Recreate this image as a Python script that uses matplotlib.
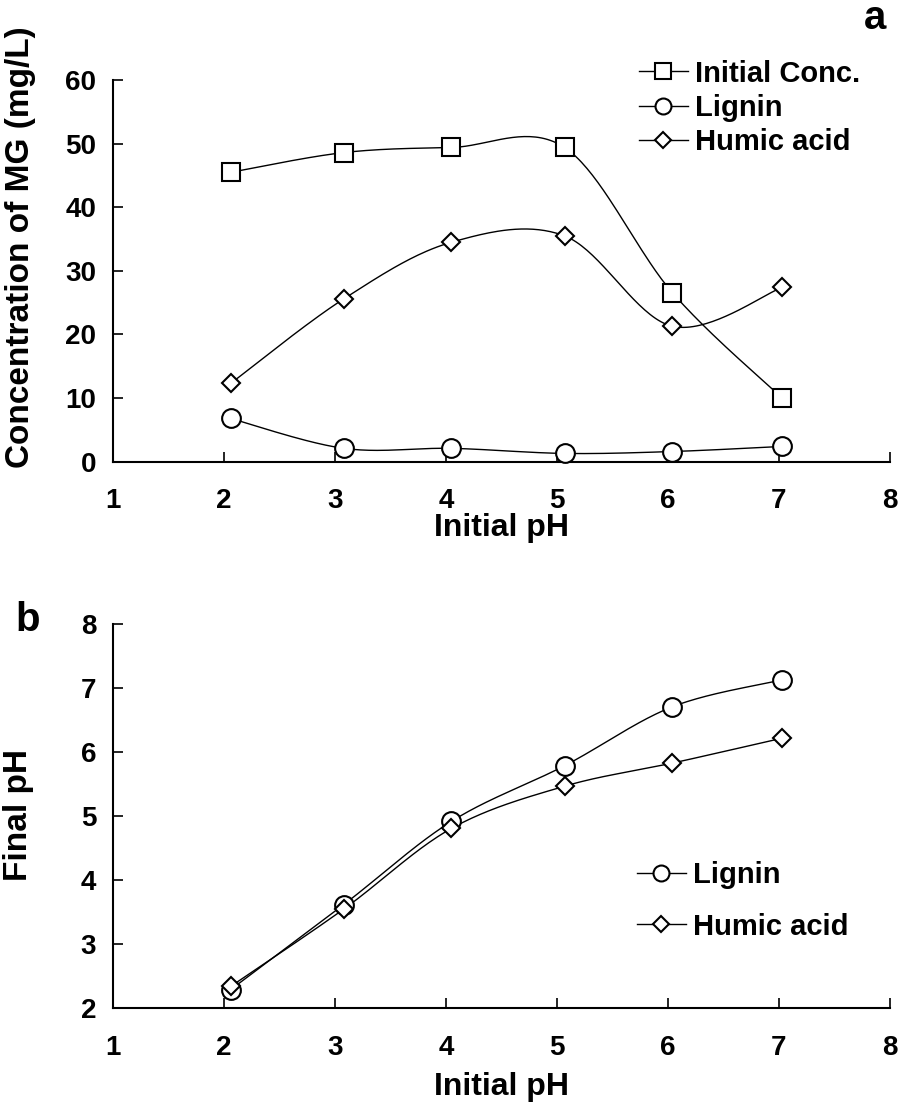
import numpy as np
import matplotlib
matplotlib.use('Agg')
import matplotlib.pyplot as plt
from matplotlib.lines import Line2D

plt.rcParams['font.family'] = ['Liberation Sans', 'DejaVu Sans']
plt.rcParams['font.weight'] = 'bold'

# initial pH of each run
ph_init = [2.06, 3.08, 4.05, 5.07, 6.04, 7.03]

# panel a: concentration of MG (mg/L)
conc_initial = [45.5, 48.6, 49.4, 49.4, 26.6, 10.0]
conc_lignin = [6.8, 2.1, 2.1, 1.3, 1.6, 2.4]
conc_humic = [12.3, 25.6, 34.5, 35.5, 21.3, 27.4]

# panel b: final pH
final_lignin = [2.29, 3.62, 4.92, 5.79, 6.71, 7.13]
final_humic = [2.34, 3.55, 4.81, 5.47, 5.83, 6.22]


def smooth(x, y, n=40):
    # excel-like smoothed line (bezier through the points)
    x = np.asarray(x, float)
    y = np.asarray(y, float)
    px = np.concatenate([[x[0]], x, [x[-1]]])
    py = np.concatenate([[y[0]], y, [y[-1]]])
    t = np.linspace(0, 1, n)[:, None]
    xs, ys = [], []
    for i in range(1, len(px) - 2):
        p0 = np.array([px[i], py[i]])
        p3 = np.array([px[i + 1], py[i + 1]])
        p1 = p0 + (np.array([px[i + 1], py[i + 1]]) - np.array([px[i - 1], py[i - 1]])) / 6
        p2 = p3 - (np.array([px[i + 2], py[i + 2]]) - np.array([px[i], py[i]])) / 6
        b = (1 - t) ** 3 * p0 + 3 * (1 - t) ** 2 * t * p1 + 3 * (1 - t) * t ** 2 * p2 + t ** 3 * p3
        xs.append(b[:, 0])
        ys.append(b[:, 1])
    return np.concatenate(xs), np.concatenate(ys)


mk = dict(markerfacecolor='white', markeredgecolor='black', markeredgewidth=1.5,
          linestyle='none', zorder=3, clip_on=False)
styles = {'s': 13, 'o': 13.5, 'D': 9}


def series(ax, x, y, marker):
    sx, sy = smooth(x, y)
    ax.plot(sx, sy, color='black', linewidth=1.0, zorder=2)
    ax.plot(x, y, marker=marker, markersize=styles[marker], **mk)


def style_axis(ax):
    for s in ['top', 'right']:
        ax.spines[s].set_visible(False)
    for s in ['left', 'bottom']:
        ax.spines[s].set_linewidth(1.5)
    ax.tick_params(direction='in', length=7, width=1.2, labelsize=20)
    ax.tick_params(axis='x', pad=19)
    ax.tick_params(axis='y', pad=12)
    ax.set_xlim(1, 8)
    ax.set_xticks(range(1, 9))
    ax.set_xlabel('Initial pH', fontsize=23, fontweight='bold')
    ax.xaxis.label.set_va('center')


def legend_handle(marker, label):
    return Line2D([0], [0], color='black', linewidth=1.0, marker=marker,
                  markersize=styles[marker] * 0.85, markerfacecolor='white',
                  markeredgecolor='black', markeredgewidth=1.5, label=label)


fig = plt.figure(figsize=(8.98, 11.12), dpi=100)
ax1 = fig.add_axes([0.1258, 0.5848, 0.865, 0.3432])
ax2 = fig.add_axes([0.1258, 0.0933, 0.865, 0.3453])

series(ax1, ph_init, conc_initial, 's')
series(ax1, ph_init, conc_lignin, 'o')
series(ax1, ph_init, conc_humic, 'D')
style_axis(ax1)
ax1.set_ylim(0, 60)
ax1.set_yticks(range(0, 61, 10))
ax1.xaxis.set_label_coords(0.5, -0.175)

series(ax2, ph_init, final_lignin, 'o')
series(ax2, ph_init, final_humic, 'D')
style_axis(ax2)
ax2.set_ylim(2, 8)
ax2.set_yticks(range(2, 9))
ax2.xaxis.set_label_coords(0.5, -0.205)

fig.text(21 / 898, 1 - 247 / 1112, 'Concentration of MG (mg/L)', rotation=90,
         ha='center', va='center', fontsize=24, fontweight='bold')
fig.text(19 / 898, 1 - 815 / 1112, 'Final pH', rotation=90,
         ha='center', va='center', fontsize=24, fontweight='bold')
fig.text(875 / 898, 1 - 18 / 1112, 'a', ha='center', va='center', fontsize=29, fontweight='bold')
fig.text(28 / 898, 1 - 620 / 1112, 'b', ha='center', va='center', fontsize=29, fontweight='bold')

h1 = [legend_handle('s', 'Initial Conc.'), legend_handle('o', 'Lignin'),
      legend_handle('D', 'Humic acid')]
fig.legend(handles=h1, loc='center left', bbox_to_anchor=(639 / 898, 1 - 108 / 1112),
           frameon=False, fontsize=21, handlelength=1.67, handletextpad=0.25,
           labelspacing=0.22, borderpad=0, borderaxespad=0)

h2 = [legend_handle('o', 'Lignin'), legend_handle('D', 'Humic acid')]
fig.legend(handles=h2, loc='center left', bbox_to_anchor=(637 / 898, 1 - 901 / 1112),
           frameon=False, fontsize=21, handlelength=1.67, handletextpad=0.25,
           labelspacing=0.8, borderpad=0, borderaxespad=0)

fig.savefig('out.png', dpi=100)
